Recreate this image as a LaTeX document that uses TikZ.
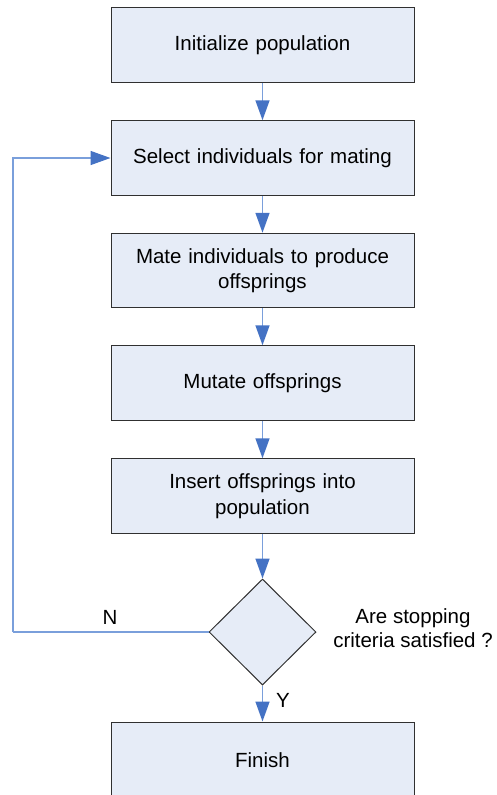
\documentclass[tikz,border=0pt]{standalone}
\usepackage{fontspec}
\setmainfont{Liberation Sans}
\usetikzlibrary{shapes.geometric,arrows.meta}
\definecolor{boxfill}{HTML}{E6ECF7}
\definecolor{boxline}{HTML}{303030}
\definecolor{arrline}{HTML}{7A9FDB}
\definecolor{arrhead}{HTML}{4472C4}
\begin{document}
\begin{tikzpicture}[x=1pt,y=-1pt,
  stepbox/.style={draw=boxline,line width=1pt,fill=boxfill,minimum width=303pt,minimum height=74.5pt,inner sep=0pt,align=center,text width=295pt,font=\fontsize{20.5}{25.5}\selectfont},
  decide/.style={draw=boxline,line width=1pt,fill=boxfill,diamond,aspect=1,minimum width=107pt,minimum height=106pt,inner sep=0pt},
  lbl/.style={font=\fontsize{20.5}{24}\selectfont,align=center,inner sep=0pt},
  conn/.style={draw=arrline,line width=1.5pt,-{Triangle[length=20pt,width=14pt,color=arrhead]}},
  loopline/.style={draw=arrline,line width=1.5pt}]
\useasboundingbox (0,0) rectangle (496,795);
\begin{scope}
\clip (0,0) rectangle (496,795);
\node[stepbox] (b1) at (262.5,45) {Initialize population};
\node[stepbox] (b2) at (262.5,158) {Select individuals for mating};
\node[stepbox] (b3) at (262.5,270.5) {Mate individuals to produce\\offsprings};
\node[stepbox] (b4) at (262.5,383) {Mutate offsprings};
\node[stepbox] (b5) at (262.5,496) {Insert offsprings into\\population};
\node[decide] (d) at (262.5,632) {};
\node[stepbox,minimum height=80pt] (fin) at (262.5,762) {};
\node[lbl] (fint) at (262.5,760) {Finish};
\coordinate (lc) at (13,632);
\draw[conn] (b1) -- (b2);
\draw[conn] (b2) -- (b3);
\draw[conn] (b3) -- (b4);
\draw[conn] (b4) -- (b5);
\draw[conn] (b5) -- (d);
\draw[conn] (d) -- (fin);
\draw[loopline] (d.west) -- (lc);
\draw[conn] (lc) |- (b2.west);
\node[lbl] (q) at (413,628) {Are stopping\\criteria satisfied ?};
\node[lbl] (n) at (110,617) {N};
\node[lbl] (y) at (283,700) {Y};
\end{scope}
\end{tikzpicture}
\end{document}
